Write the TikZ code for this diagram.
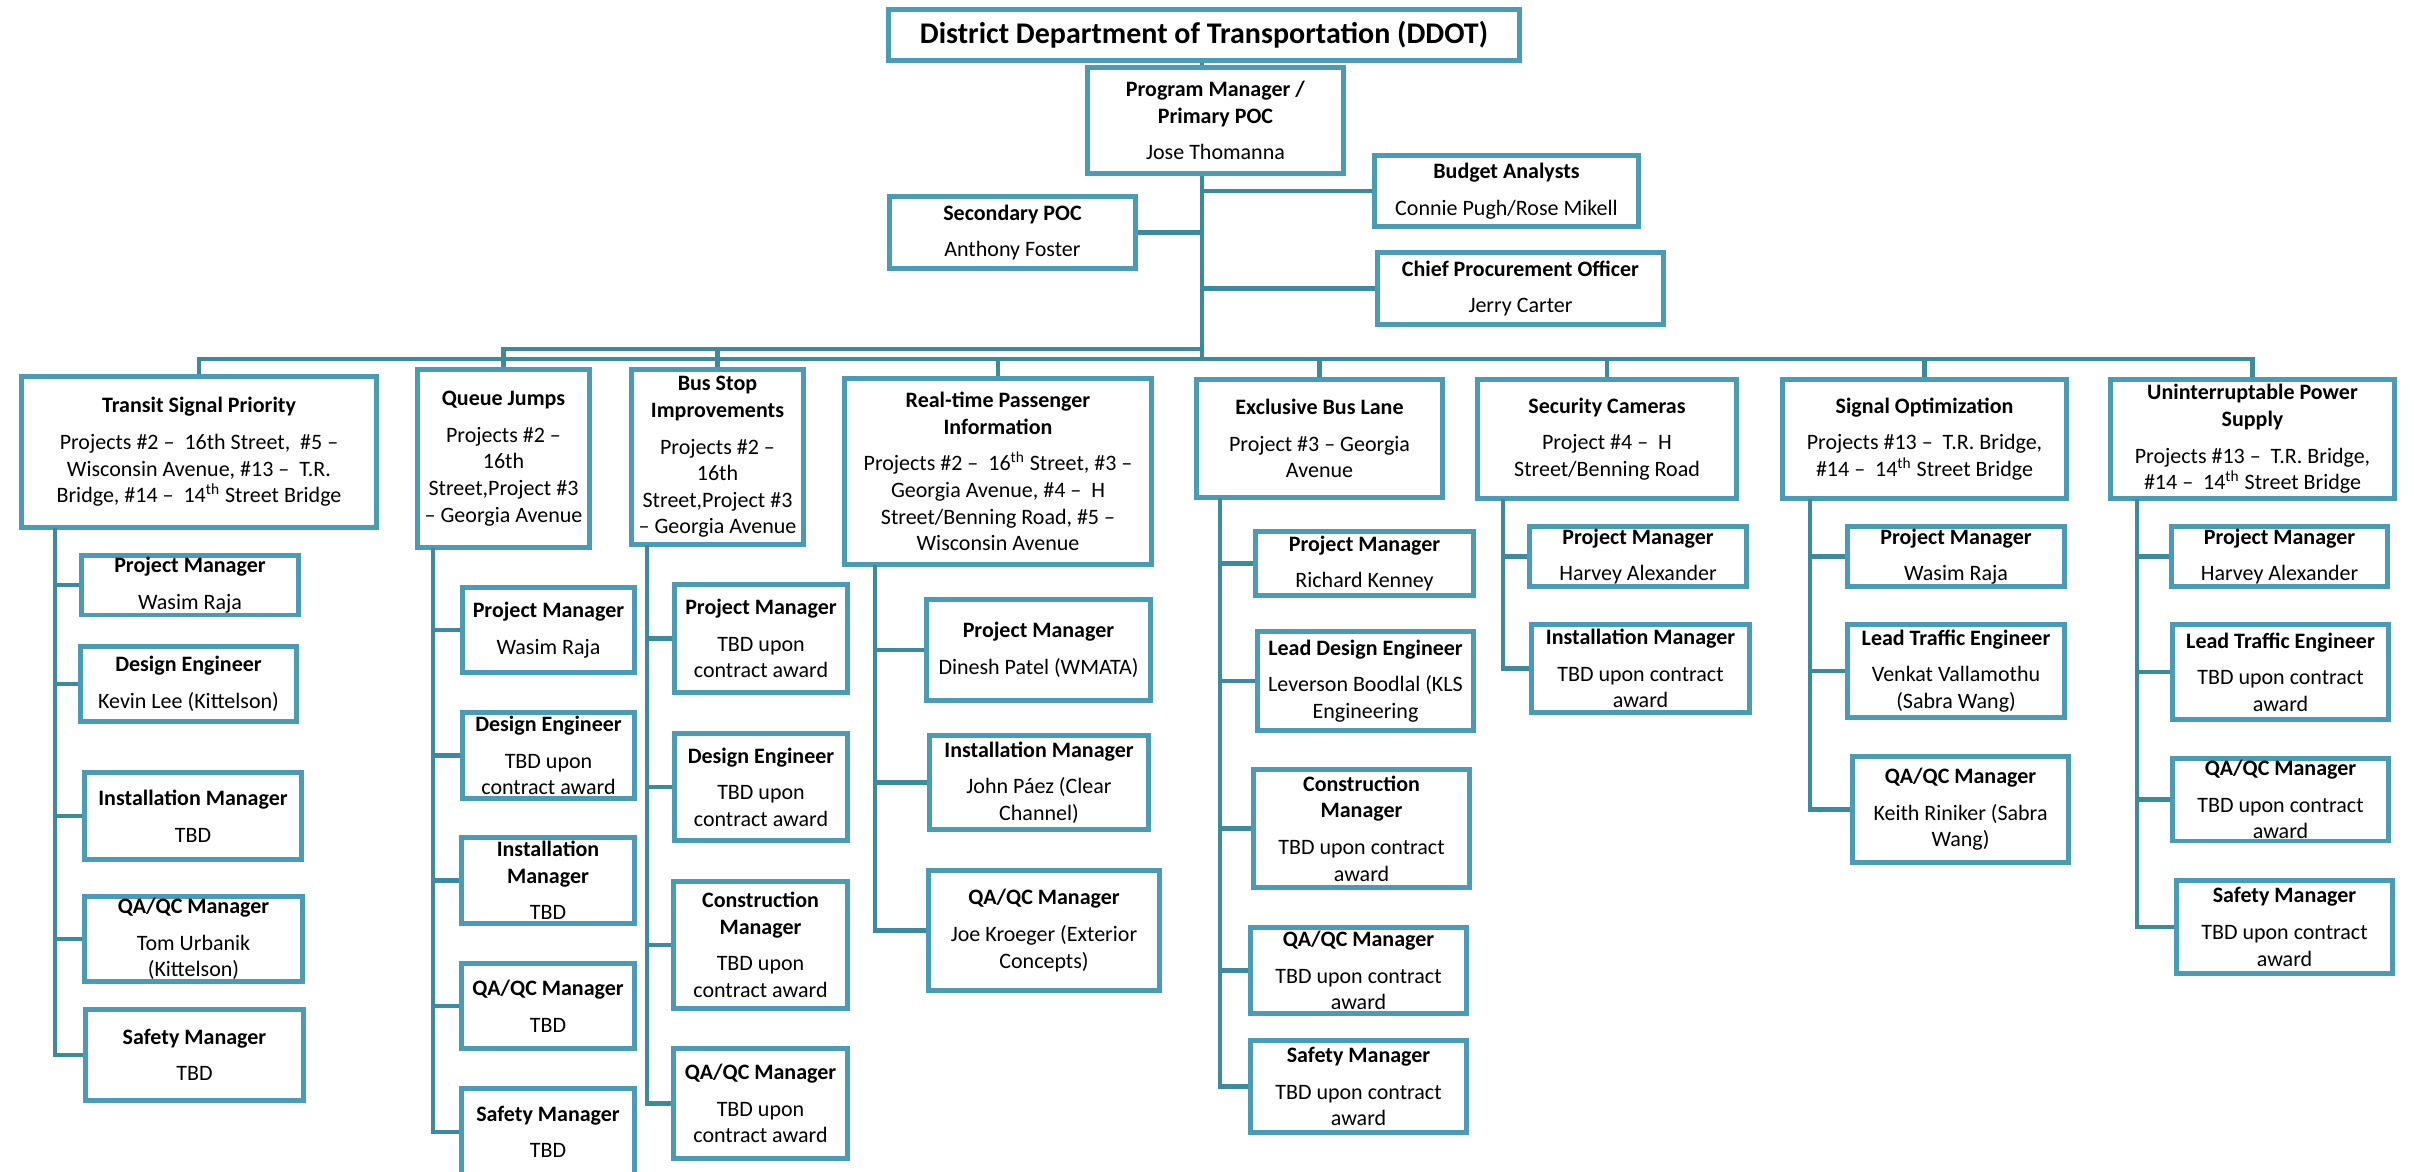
\documentclass[tikz,border=0pt]{standalone}
\usepackage{fontspec}
\setmainfont{Carlito}
\usepackage{tikz}
\usetikzlibrary{calc}
\definecolor{boxblue}{RGB}{74,156,182}
\definecolor{linkblue}{RGB}{60,138,158}
\tikzset{%
	unit/.style    = {draw=boxblue, line width=2.4pt, fill=white, rectangle, align=center, inner sep=1pt, font=\fontsize{11}{13.3}\selectfont},
	headbox/.style = {unit, font=\fontsize{15}{18}\selectfont\bfseries},
	link/.style    = {draw=linkblue, line width=2.2pt},
	dims/.style 2 args = {minimum width=#1pt, minimum height=#2pt},
}

\begin{document}
\begin{tikzpicture}[x=0.5pt,y=-0.5pt]
	\useasboundingbox (0,0) rectangle (2414,1172);
	
	\node[headbox,dims={315.6}{25.6}] (ddot) at (1204,35) {District Department of Transportation (DDOT)};
	\node[unit,dims={128.1}{53.1}] (pgm) at (1215.5,120.5) {\textbf{Program Manager /}\\\textbf{Primary POC}\\[5pt]Jose Thomanna};
	\node[unit,dims={123.1}{36.1}] (sec) at (1012.5,232.5) {\textbf{Secondary POC}\\[5pt]Anthony Foster};
	\node[unit,dims={132.1}{35.6}] (budget) at (1506.5,191) {\textbf{Budget Analysts}\\[5pt]Connie Pugh/Rose Mikell};
	\node[unit,dims={143.1}{36.1}] (cpo) at (1520.5,288.5) {\textbf{Chief Procurement Officer}\\[5pt]Jerry Carter};
	
	\coordinate (hub) at (1202,359);
	\coordinate (hubup) at (1202,349);
	\draw[link] (ddot.south -| hub) -- (pgm.north -| hub);
	\draw[link] (pgm.south -| hub) -- (hub);
	\draw[link] (sec.east) -- (sec.east -| hub);
	\draw[link] (budget.west) -- (budget.west -| hub);
	\draw[link] (cpo.west) -- (cpo.west -| hub);
	
	\node[unit,dims={177.6}{75.6}] (tsp) at (199,452) {\textbf{Transit Signal Priority}\\[5pt]Projects \#2 –~ 16th Street,~ \#5 –\\Wisconsin Avenue, \#13 –~ T.R.\\Bridge, \#14 –~ 14\textsuperscript{th} Street Bridge};
	\node[unit,dims={86.1}{89.1}] (qj) at (503.5,458.5) {\textbf{Queue Jumps}\\[5pt]Projects \#2 –\\16th\\Street,Project \#3\\– Georgia Avenue};
	\node[unit,dims={86.1}{87.6}] (bs) at (717.5,457) {\textbf{Bus Stop}\\\textbf{Improvements}\\[5pt]Projects \#2 –\\16th\\Street,Project \#3\\– Georgia Avenue};
	\node[unit,dims={153.6}{93.1}] (rt) at (998,471.5) {\textbf{Real-time Passenger}\\\textbf{Information}\\[5pt]Projects \#2 –~ 16\textsuperscript{th} Street, \#3 –\\Georgia Avenue, \#4 –~ H\\Street/Benning Road, \#5 –\\Wisconsin Avenue};
	\node[unit,dims={123.1}{59.1}] (ebl) at (1319.5,438.5) {\textbf{Exclusive Bus Lane}\\[5pt]Project \#3 – Georgia\\Avenue};
	\node[unit,dims={129.6}{59.6}] (sc) at (1607,439) {\textbf{Security Cameras}\\[5pt]Project \#4 –~ H\\Street/Benning Road};
	\node[unit,dims={142.1}{59.6}] (so) at (1924.5,439) {\textbf{Signal Optimization}\\[5pt]Projects \#13 –~ T.R. Bridge,\\\#14 –~ 14\textsuperscript{th} Street Bridge};
	\node[unit,dims={142.1}{59.6}] (ups) at (2252.5,439) {\textbf{Uninterruptable Power}\\\textbf{Supply}\\[5pt]Projects \#13 –~ T.R. Bridge,\\\#14 –~ 14\textsuperscript{th} Street Bridge};
	
	\draw[link] (hub) -| (tsp.north);
	\draw[link] (hubup) -| (qj.north);
	\draw[link] (hubup) -| (bs.north);
	\draw[link] (hub) -| (rt.north);
	\draw[link] (hub) -| (ebl.north);
	\draw[link] (hub) -| (sc.north);
	\draw[link] (hub) -| (so.north);
	\draw[link] (hub) -| (ups.north);
	
	\node[unit,dims={108.6}{28.6}] (tsp1) at (190,585) {\textbf{Project Manager}\\[5pt]Wasim Raja};
	\node[unit,dims={108.1}{37.6}] (tsp2) at (188.5,684) {\textbf{Design Engineer}\\[5pt]Kevin Lee (Kittelson)};
	\node[unit,dims={108.6}{43.6}] (tsp3) at (193,816) {\textbf{Installation Manager}\\[5pt]TBD};
	\node[unit,dims={109.1}{42.6}] (tsp4) at (193.5,939) {\textbf{QA/QC Manager}\\[5pt]Tom Urbanik\\(Kittelson)};
	\node[unit,dims={109.1}{45.6}] (tsp5) at (194.5,1055) {\textbf{Safety Manager}\\[5pt]TBD};
	\coordinate (tspline) at (55,528);
	\draw[link] (tspline) |- (tsp1.west);
	\draw[link] (tspline) |- (tsp2.west);
	\draw[link] (tspline) |- (tsp3.west);
	\draw[link] (tspline) |- (tsp4.west);
	\draw[link] (tspline) |- (tsp5.west);
	
	\node[unit,dims={86.1}{42.6}] (qj1) at (548.5,630) {\textbf{Project Manager}\\[5pt]Wasim Raja};
	\node[unit,dims={86.1}{43.1}] (qj2) at (548.5,755.5) {\textbf{Design Engineer}\\[5pt]TBD upon\\contract award};
	\node[unit,dims={86.6}{43.1}] (qj3) at (548,880.5) {\textbf{Installation}\\\textbf{Manager}\\[5pt]TBD};
	\node[unit,dims={86.6}{42.6}] (qj4) at (548,1006) {\textbf{QA/QC Manager}\\[5pt]TBD};
	\node[unit,dims={86.6}{43.6}] (qj5) at (548,1132) {\textbf{Safety Manager}\\[5pt]TBD};
	\coordinate (qjline) at (433,548);
	\draw[link] (qjline) |- (qj1.west);
	\draw[link] (qjline) |- (qj2.west);
	\draw[link] (qjline) |- (qj3.west);
	\draw[link] (qjline) |- (qj4.west);
	\draw[link] (qjline) |- (qj5.west);
	
	\node[unit,dims={86.6}{54.1}] (bs1) at (761,638.5) {\textbf{Project Manager}\\[5pt]TBD upon\\contract award};
	\node[unit,dims={86.6}{53.6}] (bs2) at (761,787) {\textbf{Design Engineer}\\[5pt]TBD upon\\contract award};
	\node[unit,dims={87.1}{63.6}] (bs3) at (760.5,945) {\textbf{Construction}\\\textbf{Manager}\\[5pt]TBD upon\\contract award};
	\node[unit,dims={87.1}{55.1}] (bs4) at (760.5,1103.5) {\textbf{QA/QC Manager}\\[5pt]TBD upon\\contract award};
	\coordinate (bsline) at (647,545);
	\draw[link] (bsline) |- (bs1.west);
	\draw[link] (bsline) |- (bs2.west);
	\draw[link] (bsline) |- (bs3.west);
	\draw[link] (bsline) |- (bs4.west);
	
	\node[unit,dims={112.1}{50.6}] (rt1) at (1038.5,650) {\textbf{Project Manager}\\[5pt]Dinesh Patel (WMATA)};
	\node[unit,dims={109.6}{47.1}] (rt2) at (1039,782.5) {\textbf{Installation Manager}\\[5pt]John Páez (Clear\\Channel)};
	\node[unit,dims={115.6}{60.1}] (rt3) at (1044,930.5) {\textbf{QA/QC Manager}\\[5pt]Joe Kroeger (Exterior\\Concepts)};
	\coordinate (rtline) at (875,565);
	\draw[link] (rtline) |- (rt1.west);
	\draw[link] (rtline) |- (rt2.west);
	\draw[link] (rtline) |- (rt3.west);
	
	\node[unit,dims={109.1}{32.1}] (ebl1) at (1364.5,563.5) {\textbf{Project Manager}\\[5pt]Richard Kenney};
	\node[unit,dims={108.1}{49.6}] (ebl2) at (1365.5,681) {\textbf{Lead Design Engineer}\\[5pt]Leverson Boodlal (KLS\\Engineering};
	\node[unit,dims={108.1}{59.1}] (ebl3) at (1361.5,828.5) {\textbf{Construction}\\\textbf{Manager}\\[5pt]TBD upon contract\\award};
	\node[unit,dims={108.1}{43.1}] (ebl4) at (1358.5,970.5) {\textbf{QA/QC Manager}\\[5pt]TBD upon contract\\award};
	\node[unit,dims={108.1}{46.1}] (ebl5) at (1358.5,1086.5) {\textbf{Safety Manager}\\[5pt]TBD upon contract\\award};
	\coordinate (eblline) at (1220,498);
	\draw[link] (eblline) |- (ebl1.west);
	\draw[link] (eblline) |- (ebl2.west);
	\draw[link] (eblline) |- (ebl3.west);
	\draw[link] (eblline) |- (ebl4.west);
	\draw[link] (eblline) |- (ebl5.west);
	
	\node[unit,dims={108.6}{29.1}] (sc1) at (1638,556.5) {\textbf{Project Manager}\\[5pt]Harvey Alexander};
	\node[unit,dims={109.1}{44.1}] (sc2) at (1640.5,668.5) {\textbf{Installation Manager}\\[5pt]TBD upon contract\\award};
	\coordinate (scline) at (1503,499);
	\draw[link] (scline) |- (sc1.west);
	\draw[link] (scline) |- (sc2.west);
	
	\node[unit,dims={108.6}{29.1}] (so1) at (1956,556.5) {\textbf{Project Manager}\\[5pt]Wasim Raja};
	\node[unit,dims={108.6}{46.6}] (so2) at (1956,671) {\textbf{Lead Traffic Engineer}\\[5pt]Venkat Vallamothu\\(Sabra Wang)};
	\node[unit,dims={108.1}{53.1}] (so3) at (1960.5,809.5) {\textbf{QA/QC Manager}\\[5pt]Keith Riniker (Sabra\\Wang)};
	\coordinate (soline) at (1810,499);
	\draw[link] (soline) |- (so1.west);
	\draw[link] (soline) |- (so2.west);
	\draw[link] (soline) |- (so3.west);
	
	\node[unit,dims={108.1}{29.1}] (ups1) at (2279.5,556.5) {\textbf{Project Manager}\\[5pt]Harvey Alexander};
	\node[unit,dims={108.1}{47.6}] (ups2) at (2280.5,672) {\textbf{Lead Traffic Engineer}\\[5pt]TBD upon contract\\award};
	\node[unit,dims={108.1}{41.1}] (ups3) at (2280.5,799.5) {\textbf{QA/QC Manager}\\[5pt]TBD upon contract\\award};
	\node[unit,dims={108.1}{46.6}] (ups4) at (2284.5,927) {\textbf{Safety Manager}\\[5pt]TBD upon contract\\award};
	\coordinate (upsline) at (2137,499);
	\draw[link] (upsline) |- (ups1.west);
	\draw[link] (upsline) |- (ups2.west);
	\draw[link] (upsline) |- (ups3.west);
	\draw[link] (upsline) |- (ups4.west);
\end{tikzpicture}
\end{document}
